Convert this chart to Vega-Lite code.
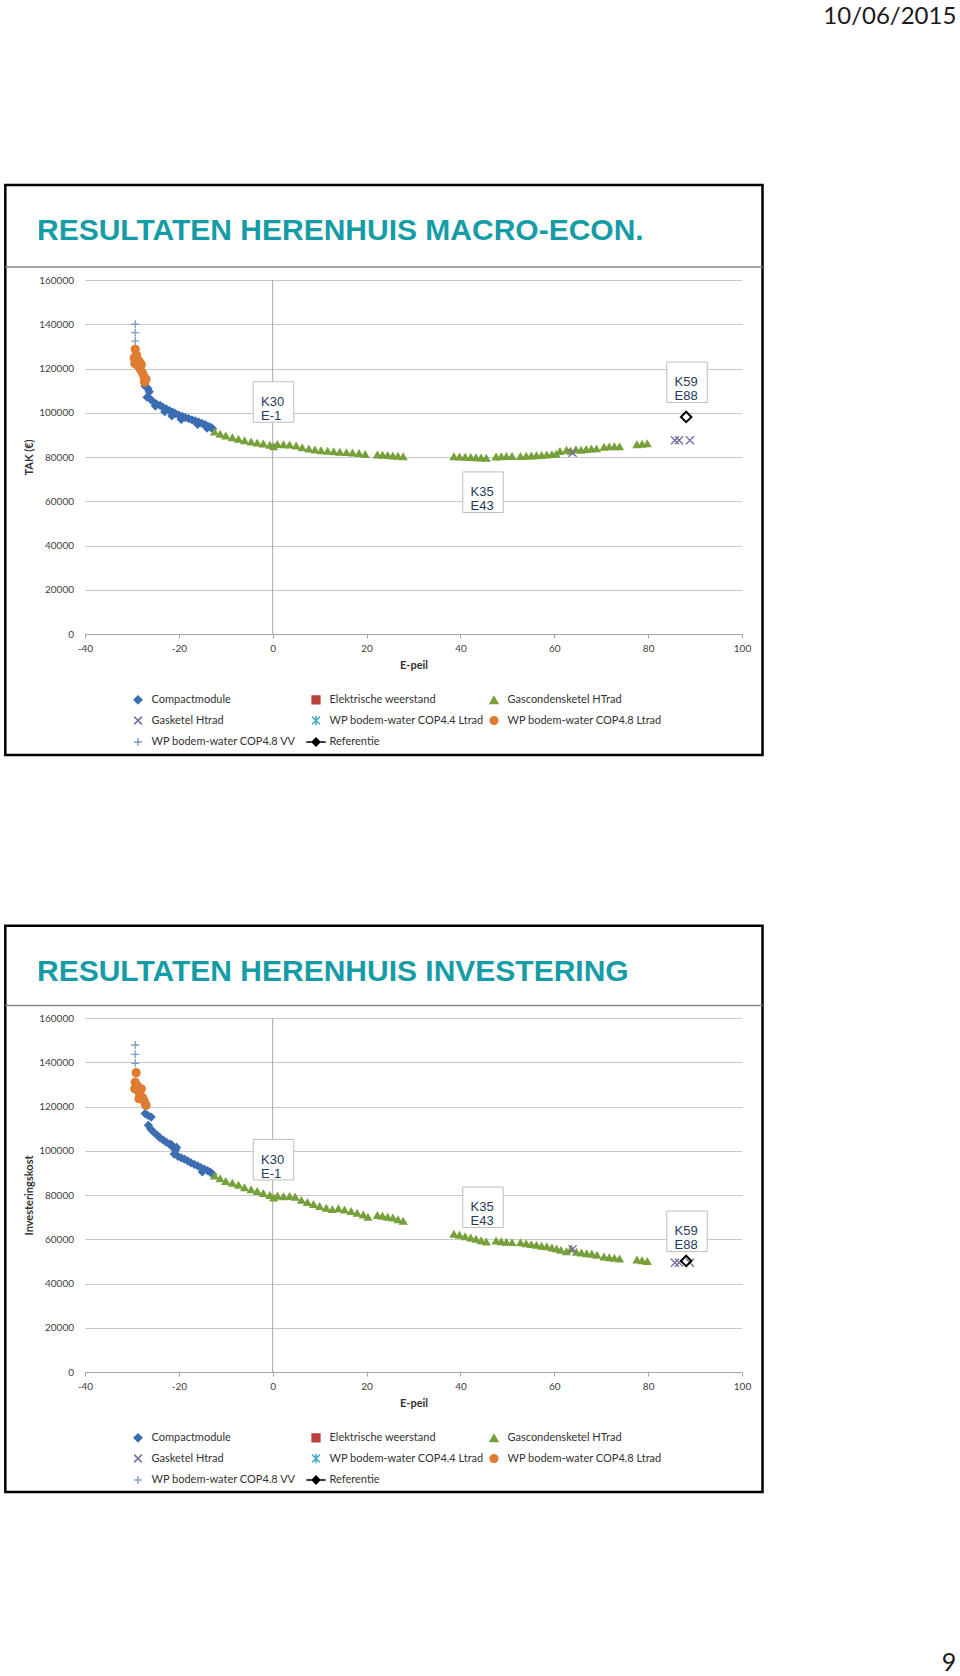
{
  "$schema": "https://vega.github.io/schema/vega-lite/v6.json",
  "background": "white",
  "padding": {"left": 4, "top": 4, "right": 0, "bottom": 0},
  "autosize": {"type": "pad"},
  "bounds": "flush",
  "spacing": 384,
  "config": {"font": "Lato", "view": {"stroke": null}},
  "resolve": {"scale": {"color": "independent", "shape": "independent"}},
  "datasets": {
    "tak": [
      {"s": "Compactmodule", "e": -27.2, "v": 112000}, {"s": "Compactmodule", "e": -26.6, "v": 111000}, {"s": "Compactmodule", "e": -26.3, "v": 109500}, {"s": "Compactmodule", "e": -26.8, "v": 107000}, {"s": "Compactmodule", "e": -26.0, "v": 106000}, {"s": "Compactmodule", "e": -25.5, "v": 105000}, {"s": "Compactmodule", "e": -24.8, "v": 104000}, {"s": "Compactmodule", "e": -24.0, "v": 103300}, {"s": "Compactmodule", "e": -23.4, "v": 102500}, {"s": "Compactmodule", "e": -22.7, "v": 101800}, {"s": "Compactmodule", "e": -22.0, "v": 101000}, {"s": "Compactmodule", "e": -21.3, "v": 100300}, {"s": "Compactmodule", "e": -20.7, "v": 99600}, {"s": "Compactmodule", "e": -20.0, "v": 98900}, {"s": "Compactmodule", "e": -19.3, "v": 98400}, {"s": "Compactmodule", "e": -18.6, "v": 97800}, {"s": "Compactmodule", "e": -17.9, "v": 97300}, {"s": "Compactmodule", "e": -17.2, "v": 96800}, {"s": "Compactmodule", "e": -16.5, "v": 96300}, {"s": "Compactmodule", "e": -15.8, "v": 95800}, {"s": "Compactmodule", "e": -15.1, "v": 95200}, {"s": "Compactmodule", "e": -14.4, "v": 94600}, {"s": "Compactmodule", "e": -13.8, "v": 94000}, {"s": "Compactmodule", "e": -13.2, "v": 93400}, {"s": "Compactmodule", "e": -12.8, "v": 92800}, {"s": "Compactmodule", "e": -21.5, "v": 98600}, {"s": "Compactmodule", "e": -19.5, "v": 97000}, {"s": "Compactmodule", "e": -16.0, "v": 94700}, {"s": "Compactmodule", "e": -14.0, "v": 93000}, {"s": "Compactmodule", "e": -25.0, "v": 103000}, {"s": "Compactmodule", "e": -23.0, "v": 100500},
      {"s": "Gascondensketel HTrad", "e": -12.4, "v": 91500}, {"s": "Gascondensketel HTrad", "e": -11.2, "v": 90500}, {"s": "Gascondensketel HTrad", "e": -10.0, "v": 89700}, {"s": "Gascondensketel HTrad", "e": -8.6, "v": 88900}, {"s": "Gascondensketel HTrad", "e": -7.3, "v": 88200}, {"s": "Gascondensketel HTrad", "e": -6.0, "v": 87600}, {"s": "Gascondensketel HTrad", "e": -4.6, "v": 87000}, {"s": "Gascondensketel HTrad", "e": -3.3, "v": 86500}, {"s": "Gascondensketel HTrad", "e": -2.0, "v": 86100}, {"s": "Gascondensketel HTrad", "e": -0.6, "v": 85500}, {"s": "Gascondensketel HTrad", "e": 0.2, "v": 84900}, {"s": "Gascondensketel HTrad", "e": 1.0, "v": 85900}, {"s": "Gascondensketel HTrad", "e": 2.3, "v": 85800}, {"s": "Gascondensketel HTrad", "e": 3.6, "v": 85600}, {"s": "Gascondensketel HTrad", "e": 5.0, "v": 85200}, {"s": "Gascondensketel HTrad", "e": 6.3, "v": 84400}, {"s": "Gascondensketel HTrad", "e": 7.7, "v": 83800}, {"s": "Gascondensketel HTrad", "e": 9.0, "v": 83400}, {"s": "Gascondensketel HTrad", "e": 10.3, "v": 83100}, {"s": "Gascondensketel HTrad", "e": 11.7, "v": 82800}, {"s": "Gascondensketel HTrad", "e": 13.0, "v": 82600}, {"s": "Gascondensketel HTrad", "e": 14.3, "v": 82400}, {"s": "Gascondensketel HTrad", "e": 15.7, "v": 82200}, {"s": "Gascondensketel HTrad", "e": 17.0, "v": 82000}, {"s": "Gascondensketel HTrad", "e": 18.4, "v": 81800}, {"s": "Gascondensketel HTrad", "e": 19.7, "v": 81400},
      {"s": "Gascondensketel HTrad", "e": 22.3, "v": 81100}, {"s": "Gascondensketel HTrad", "e": 23.4, "v": 81000}, {"s": "Gascondensketel HTrad", "e": 24.5, "v": 80900}, {"s": "Gascondensketel HTrad", "e": 25.6, "v": 80700}, {"s": "Gascondensketel HTrad", "e": 26.7, "v": 80600}, {"s": "Gascondensketel HTrad", "e": 27.8, "v": 80300},
      {"s": "Gascondensketel HTrad", "e": 38.6, "v": 80300}, {"s": "Gascondensketel HTrad", "e": 39.8, "v": 80200}, {"s": "Gascondensketel HTrad", "e": 41.0, "v": 80100}, {"s": "Gascondensketel HTrad", "e": 42.2, "v": 80000}, {"s": "Gascondensketel HTrad", "e": 43.3, "v": 79900}, {"s": "Gascondensketel HTrad", "e": 44.4, "v": 79800}, {"s": "Gascondensketel HTrad", "e": 45.5, "v": 79700},
      {"s": "Gascondensketel HTrad", "e": 47.6, "v": 80200}, {"s": "Gascondensketel HTrad", "e": 48.7, "v": 80300}, {"s": "Gascondensketel HTrad", "e": 49.8, "v": 80400}, {"s": "Gascondensketel HTrad", "e": 51.0, "v": 80500},
      {"s": "Gascondensketel HTrad", "e": 52.8, "v": 80500}, {"s": "Gascondensketel HTrad", "e": 54.0, "v": 80600}, {"s": "Gascondensketel HTrad", "e": 55.1, "v": 80700}, {"s": "Gascondensketel HTrad", "e": 56.2, "v": 80800}, {"s": "Gascondensketel HTrad", "e": 57.3, "v": 80900}, {"s": "Gascondensketel HTrad", "e": 58.4, "v": 81100}, {"s": "Gascondensketel HTrad", "e": 59.5, "v": 81300}, {"s": "Gascondensketel HTrad", "e": 60.4, "v": 81500}, {"s": "Gascondensketel HTrad", "e": 61.2, "v": 82700},
      {"s": "Gascondensketel HTrad", "e": 62.6, "v": 83300}, {"s": "Gascondensketel HTrad", "e": 63.5, "v": 82800}, {"s": "Gascondensketel HTrad", "e": 64.6, "v": 83500}, {"s": "Gascondensketel HTrad", "e": 65.7, "v": 83300}, {"s": "Gascondensketel HTrad", "e": 66.8, "v": 83600}, {"s": "Gascondensketel HTrad", "e": 67.9, "v": 83800}, {"s": "Gascondensketel HTrad", "e": 69.0, "v": 83900},
      {"s": "Gascondensketel HTrad", "e": 70.6, "v": 84600}, {"s": "Gascondensketel HTrad", "e": 71.7, "v": 84800}, {"s": "Gascondensketel HTrad", "e": 72.8, "v": 84900}, {"s": "Gascondensketel HTrad", "e": 73.9, "v": 84900},
      {"s": "Gascondensketel HTrad", "e": 77.6, "v": 85800}, {"s": "Gascondensketel HTrad", "e": 78.7, "v": 86000}, {"s": "Gascondensketel HTrad", "e": 79.8, "v": 86200},
      {"s": "WP bodem-water COP4.8 Ltrad", "e": -29.3, "v": 128700}, {"s": "WP bodem-water COP4.8 Ltrad", "e": -29.5, "v": 124800}, {"s": "WP bodem-water COP4.8 Ltrad", "e": -29.4, "v": 122300}, {"s": "WP bodem-water COP4.8 Ltrad", "e": -29.0, "v": 126000}, {"s": "WP bodem-water COP4.8 Ltrad", "e": -28.8, "v": 121500}, {"s": "WP bodem-water COP4.8 Ltrad", "e": -28.5, "v": 123500}, {"s": "WP bodem-water COP4.8 Ltrad", "e": -28.2, "v": 119700}, {"s": "WP bodem-water COP4.8 Ltrad", "e": -28.0, "v": 121800}, {"s": "WP bodem-water COP4.8 Ltrad", "e": -27.7, "v": 117800}, {"s": "WP bodem-water COP4.8 Ltrad", "e": -27.4, "v": 116000}, {"s": "WP bodem-water COP4.8 Ltrad", "e": -27.0, "v": 115200}, {"s": "WP bodem-water COP4.8 Ltrad", "e": -27.3, "v": 113800},
      {"s": "WP bodem-water COP4.8 VV", "e": -29.3, "v": 140000}, {"s": "WP bodem-water COP4.8 VV", "e": -29.3, "v": 136200}, {"s": "WP bodem-water COP4.8 VV", "e": -29.3, "v": 132400},
      {"s": "Gasketel Htrad", "e": 63.9, "v": 81950}, {"s": "Gasketel Htrad", "e": 85.7, "v": 87550}, {"s": "Gasketel Htrad", "e": 86.6, "v": 87550}, {"s": "Gasketel Htrad", "e": 88.9, "v": 87550},
      {"s": "Referentie", "e": 88.1, "v": 98100}
    ],
    "inv": [
      {"s": "Compactmodule", "e": -27.2, "v": 116800}, {"s": "Compactmodule", "e": -26.6, "v": 116000}, {"s": "Compactmodule", "e": -25.9, "v": 115200}, {"s": "Compactmodule", "e": -26.5, "v": 111500}, {"s": "Compactmodule", "e": -26.0, "v": 109800}, {"s": "Compactmodule", "e": -25.3, "v": 108300}, {"s": "Compactmodule", "e": -24.6, "v": 107000}, {"s": "Compactmodule", "e": -24.0, "v": 105800}, {"s": "Compactmodule", "e": -23.3, "v": 104800}, {"s": "Compactmodule", "e": -22.7, "v": 103900}, {"s": "Compactmodule", "e": -22.0, "v": 103000}, {"s": "Compactmodule", "e": -21.4, "v": 101800}, {"s": "Compactmodule", "e": -20.7, "v": 100300}, {"s": "Compactmodule", "e": -21.0, "v": 98500}, {"s": "Compactmodule", "e": -20.2, "v": 97500}, {"s": "Compactmodule", "e": -19.5, "v": 96800}, {"s": "Compactmodule", "e": -18.8, "v": 96200}, {"s": "Compactmodule", "e": -18.1, "v": 95400}, {"s": "Compactmodule", "e": -17.4, "v": 94500}, {"s": "Compactmodule", "e": -16.7, "v": 93800}, {"s": "Compactmodule", "e": -16.0, "v": 93200}, {"s": "Compactmodule", "e": -15.3, "v": 92400}, {"s": "Compactmodule", "e": -14.6, "v": 91700}, {"s": "Compactmodule", "e": -13.9, "v": 91000}, {"s": "Compactmodule", "e": -13.3, "v": 90300}, {"s": "Compactmodule", "e": -12.8, "v": 89400}, {"s": "Compactmodule", "e": -21.6, "v": 102800}, {"s": "Compactmodule", "e": -20.5, "v": 101500}, {"s": "Compactmodule", "e": -15.0, "v": 90500},
      {"s": "Gascondensketel HTrad", "e": -12.4, "v": 88800}, {"s": "Gascondensketel HTrad", "e": -11.2, "v": 87600}, {"s": "Gascondensketel HTrad", "e": -10.0, "v": 86300}, {"s": "Gascondensketel HTrad", "e": -8.6, "v": 85500}, {"s": "Gascondensketel HTrad", "e": -7.3, "v": 84600}, {"s": "Gascondensketel HTrad", "e": -6.0, "v": 83500}, {"s": "Gascondensketel HTrad", "e": -4.6, "v": 82600}, {"s": "Gascondensketel HTrad", "e": -3.3, "v": 81800}, {"s": "Gascondensketel HTrad", "e": -2.0, "v": 80900}, {"s": "Gascondensketel HTrad", "e": -0.6, "v": 80000}, {"s": "Gascondensketel HTrad", "e": 0.2, "v": 78900}, {"s": "Gascondensketel HTrad", "e": 1.0, "v": 79800}, {"s": "Gascondensketel HTrad", "e": 2.3, "v": 79400}, {"s": "Gascondensketel HTrad", "e": 3.6, "v": 79500}, {"s": "Gascondensketel HTrad", "e": 4.8, "v": 79200}, {"s": "Gascondensketel HTrad", "e": 6.1, "v": 77800}, {"s": "Gascondensketel HTrad", "e": 7.4, "v": 76800}, {"s": "Gascondensketel HTrad", "e": 8.7, "v": 75900}, {"s": "Gascondensketel HTrad", "e": 10.0, "v": 75000}, {"s": "Gascondensketel HTrad", "e": 11.4, "v": 74200}, {"s": "Gascondensketel HTrad", "e": 12.7, "v": 73700}, {"s": "Gascondensketel HTrad", "e": 14.0, "v": 74000}, {"s": "Gascondensketel HTrad", "e": 15.3, "v": 73400}, {"s": "Gascondensketel HTrad", "e": 16.7, "v": 72800}, {"s": "Gascondensketel HTrad", "e": 18.0, "v": 72000}, {"s": "Gascondensketel HTrad", "e": 19.3, "v": 71200}, {"s": "Gascondensketel HTrad", "e": 20.3, "v": 70200},
      {"s": "Gascondensketel HTrad", "e": 22.3, "v": 71000}, {"s": "Gascondensketel HTrad", "e": 23.4, "v": 70600}, {"s": "Gascondensketel HTrad", "e": 24.5, "v": 70200}, {"s": "Gascondensketel HTrad", "e": 25.6, "v": 69800}, {"s": "Gascondensketel HTrad", "e": 26.7, "v": 69000}, {"s": "Gascondensketel HTrad", "e": 27.8, "v": 68400},
      {"s": "Gascondensketel HTrad", "e": 38.6, "v": 62500}, {"s": "Gascondensketel HTrad", "e": 39.8, "v": 62000}, {"s": "Gascondensketel HTrad", "e": 41.0, "v": 61400}, {"s": "Gascondensketel HTrad", "e": 42.2, "v": 60800}, {"s": "Gascondensketel HTrad", "e": 43.3, "v": 60200}, {"s": "Gascondensketel HTrad", "e": 44.4, "v": 59600}, {"s": "Gascondensketel HTrad", "e": 45.5, "v": 59000},
      {"s": "Gascondensketel HTrad", "e": 47.6, "v": 59400}, {"s": "Gascondensketel HTrad", "e": 48.7, "v": 59100}, {"s": "Gascondensketel HTrad", "e": 49.8, "v": 58900}, {"s": "Gascondensketel HTrad", "e": 51.0, "v": 58700},
      {"s": "Gascondensketel HTrad", "e": 52.8, "v": 58600}, {"s": "Gascondensketel HTrad", "e": 54.0, "v": 58200}, {"s": "Gascondensketel HTrad", "e": 55.1, "v": 57800}, {"s": "Gascondensketel HTrad", "e": 56.2, "v": 57500}, {"s": "Gascondensketel HTrad", "e": 57.3, "v": 57100}, {"s": "Gascondensketel HTrad", "e": 58.4, "v": 56800}, {"s": "Gascondensketel HTrad", "e": 59.5, "v": 56300}, {"s": "Gascondensketel HTrad", "e": 60.5, "v": 55800}, {"s": "Gascondensketel HTrad", "e": 61.4, "v": 55200},
      {"s": "Gascondensketel HTrad", "e": 62.6, "v": 54600}, {"s": "Gascondensketel HTrad", "e": 63.6, "v": 55800}, {"s": "Gascondensketel HTrad", "e": 64.7, "v": 54400}, {"s": "Gascondensketel HTrad", "e": 65.8, "v": 54000}, {"s": "Gascondensketel HTrad", "e": 66.9, "v": 53700}, {"s": "Gascondensketel HTrad", "e": 68.0, "v": 53400}, {"s": "Gascondensketel HTrad", "e": 69.1, "v": 53000},
      {"s": "Gascondensketel HTrad", "e": 70.6, "v": 52200}, {"s": "Gascondensketel HTrad", "e": 71.7, "v": 51900}, {"s": "Gascondensketel HTrad", "e": 72.8, "v": 51600}, {"s": "Gascondensketel HTrad", "e": 73.9, "v": 51300},
      {"s": "Gascondensketel HTrad", "e": 77.6, "v": 50800}, {"s": "Gascondensketel HTrad", "e": 78.7, "v": 50500}, {"s": "Gascondensketel HTrad", "e": 79.8, "v": 50200},
      {"s": "WP bodem-water COP4.8 Ltrad", "e": -29.1, "v": 135300}, {"s": "WP bodem-water COP4.8 Ltrad", "e": -29.3, "v": 131000}, {"s": "WP bodem-water COP4.8 Ltrad", "e": -29.4, "v": 128000}, {"s": "WP bodem-water COP4.8 Ltrad", "e": -28.9, "v": 129500}, {"s": "WP bodem-water COP4.8 Ltrad", "e": -28.6, "v": 127000}, {"s": "WP bodem-water COP4.8 Ltrad", "e": -28.3, "v": 125500}, {"s": "WP bodem-water COP4.8 Ltrad", "e": -28.0, "v": 128000}, {"s": "WP bodem-water COP4.8 Ltrad", "e": -27.7, "v": 124000}, {"s": "WP bodem-water COP4.8 Ltrad", "e": -27.4, "v": 122500}, {"s": "WP bodem-water COP4.8 Ltrad", "e": -27.1, "v": 121000}, {"s": "WP bodem-water COP4.8 Ltrad", "e": -27.0, "v": 120500}, {"s": "WP bodem-water COP4.8 Ltrad", "e": -28.5, "v": 123500},
      {"s": "WP bodem-water COP4.8 VV", "e": -29.3, "v": 147800}, {"s": "WP bodem-water COP4.8 VV", "e": -29.3, "v": 143600}, {"s": "WP bodem-water COP4.8 VV", "e": -29.3, "v": 139500},
      {"s": "Gasketel Htrad", "e": 63.9, "v": 55450}, {"s": "Gasketel Htrad", "e": 85.7, "v": 49400}, {"s": "Gasketel Htrad", "e": 86.6, "v": 49400}, {"s": "Gasketel Htrad", "e": 88.9, "v": 49400},
      {"s": "Referentie", "e": 88.1, "v": 50200}
    ],
    "ann1": [
      {"lab": "K30\nE-1", "e": 0.17, "v": 104860},
      {"lab": "K35\nE43", "e": 44.81, "v": 64090},
      {"lab": "K59\nE88", "e": 88.28, "v": 113765}
    ],
    "ann2": [
      {"lab": "K30\nE-1", "e": 0.17, "v": 95955},
      {"lab": "K35\nE43", "e": 44.81, "v": 74440},
      {"lab": "K59\nE88", "e": 88.28, "v": 63590}
    ]
  },
  "vconcat": [
    {
      "width": 657,
      "height": 354,
      "layer": [
        {
          "data": {"values": [{}]},
          "mark": {"type": "rect", "fill": "transparent", "stroke": "#000000", "strokeWidth": 2.5, "clip": false},
          "encoding": {
            "x": {"datum": -56.98, "scale": {"domain": [-40, 100]}},
            "x2": {"datum": 104.37},
            "y": {"datum": 202939, "scale": {"domain": [0, 160000]}},
            "y2": {"datum": -54690}
          }
        },
        {
          "data": {"values": [{}]},
          "mark": {"type": "rule", "stroke": "#8a8a8a", "strokeWidth": 1.5, "clip": false},
          "encoding": {
            "x": {"datum": -56.98, "scale": {"domain": [-40, 100]}},
            "x2": {"datum": 104.37},
            "y": {"datum": 165877, "scale": {"domain": [0, 160000]}}
          }
        },
        {
          "data": {"values": [{"t": "RESULTATEN HERENHUIS MACRO-ECON."}]},
          "mark": {"type": "text", "align": "left", "baseline": "middle", "font": "Liberation Sans", "fontWeight": "bold", "fontSize": 30, "color": "#169ca6", "clip": false},
          "encoding": {
            "x": {"datum": -50.23, "scale": {"domain": [-40, 100]}},
            "y": {"datum": 182148, "scale": {"domain": [0, 160000]}},
            "text": {"field": "t"}
          }
        },
        {
          "data": {"values": [{"t": "10/06/2015"}]},
          "mark": {"type": "text", "align": "center", "baseline": "middle", "font": "Lato", "fontSize": 24, "color": "#1a1a1a", "clip": false},
          "encoding": {
            "x": {"datum": 131.5, "scale": {"domain": [-40, 100]}},
            "y": {"datum": 278900, "scale": {"domain": [0, 160000]}},
            "text": {"field": "t"}
          }
        },
        {
          "data": {"values": [{}]},
          "mark": {"type": "rule", "stroke": "#a6a6a6", "strokeWidth": 1},
          "encoding": {
            "x": {"datum": 0, "scale": {"domain": [-40, 100]}},
            "y": {"datum": 0, "scale": {"domain": [0, 160000]}},
            "y2": {"datum": 160000}
          }
        },
        {
          "data": {"name": "tak"},
          "encoding": {
            "x": {
              "field": "e", "type": "quantitative",
              "scale": {"domain": [-40, 100]},
              "axis": {"title": "E-peil", "values": [-40, -20, 0, 20, 40, 60, 80, 100], "labelExpr": "'' + datum.value", "grid": false, "domainColor": "#a6a6a6", "tickColor": "#a6a6a6", "tickSize": 4, "labelPadding": 5, "labelFontSize": 10, "labelColor": "#404040", "labelFlush": false, "labelOverlap": false, "titleFontSize": 11, "titleFontWeight": "bold", "titleColor": "#333333", "titlePadding": 6}
            },
            "y": {
              "field": "v", "type": "quantitative",
              "scale": {"domain": [0, 160000]},
              "axis": {"title": "TAK (€)", "values": [0, 20000, 40000, 60000, 80000, 100000, 120000, 140000, 160000], "labelExpr": "'' + datum.value", "grid": true, "gridColor": "#c8c8c8", "gridWidth": 1, "domain": false, "ticks": false, "labelPadding": 11.5, "labelFontSize": 10, "labelColor": "#404040", "titleFontSize": 11, "titleFontWeight": "bold", "titleColor": "#333333", "titlePadding": 4}
            },
            "color": {
              "field": "s", "type": "nominal",
              "scale": {"domain": ["Compactmodule", "Gasketel Htrad", "WP bodem-water COP4.8 VV", "Elektrische weerstand", "WP bodem-water COP4.4 Ltrad", "Referentie", "Gascondensketel HTrad", "WP bodem-water COP4.8 Ltrad"], "range": ["#3b6db3", "#7d6a9e", "#7f9ccc", "#b8413e", "#4bacc6", "#000000", "#76a03a", "#e07b32"]},
              "legend": {"title": null, "orient": "none", "legendX": 47.5, "legendY": 413.5, "columns": 3, "gridAlign": "all", "columnPadding": -4, "rowPadding": 4.5, "padding": 0, "labelFont": "Lato", "labelFontSize": 11, "labelColor": "#333333", "labelOffset": 8, "labelLimit": 300, "symbolSize": 60,
                "encode": {"symbols": {"update": {
                  "fill": {"signal": "datum.value === 'Compactmodule' ? '#3b6db3' : datum.value === 'Elektrische weerstand' ? '#b8413e' : datum.value === 'Gascondensketel HTrad' ? '#76a03a' : datum.value === 'WP bodem-water COP4.8 Ltrad' ? '#e07b32' : 'transparent'"},
                  "stroke": {"signal": "datum.value === 'Gasketel Htrad' ? '#a0a0a0' : datum.value === 'WP bodem-water COP4.4 Ltrad' ? '#9cc3d2' : datum.value === 'WP bodem-water COP4.8 VV' ? '#b3bfd2' : datum.value === 'Referentie' ? '#000000' : 'transparent'"},
                  "strokeWidth": {"value": 1.3},
                  "opacity": {"value": 1}
                }}}
              }
            },
            "shape": {
              "field": "s", "type": "nominal",
              "scale": {"domain": ["Compactmodule", "Gasketel Htrad", "WP bodem-water COP4.8 VV", "Elektrische weerstand", "WP bodem-water COP4.4 Ltrad", "Referentie", "Gascondensketel HTrad", "WP bodem-water COP4.8 Ltrad"], "range": ["diamond", "M-1,-1L1,1M-1,1L1,-1", "M-1,0L1,0M0,-1L0,1", "square", "M-1,-1L1,1M-1,1L1,-1M0,-1.2L0,1.2", "M-2.5,0L-1,0M1,0L2.5,0M0,-1L1,0L0,1L-1,0Z", "triangle-up", "circle"]},
              "legend": {"title": null, "orient": "none", "legendX": 47.5, "legendY": 413.5, "columns": 3, "gridAlign": "all", "columnPadding": -4, "rowPadding": 4.5, "padding": 0, "labelFont": "Lato", "labelFontSize": 11, "labelColor": "#333333", "labelOffset": 8, "labelLimit": 300, "symbolSize": 60}
            }
          },
          "layer": [
            {
              "transform": [{"filter": {"field": "s", "oneOf": ["Compactmodule", "Elektrische weerstand", "Gascondensketel HTrad", "WP bodem-water COP4.8 Ltrad"]}}],
              "mark": {"type": "point", "filled": true, "opacity": 1, "size": 85}
            },
            {
              "transform": [{"filter": {"field": "s", "oneOf": ["Gasketel Htrad", "WP bodem-water COP4.4 Ltrad", "WP bodem-water COP4.8 VV"]}}],
              "mark": {"type": "point", "filled": false, "opacity": 1, "size": 64, "strokeWidth": 1.3}
            }
          ]
        },
        {
          "data": {"name": "tak"},
          "transform": [{"filter": {"field": "s", "equal": "Referentie"}}],
          "mark": {"type": "point", "shape": "diamond", "filled": false, "stroke": "#000000", "strokeWidth": 2, "size": 110, "opacity": 1},
          "encoding": {
            "x": {"field": "e", "type": "quantitative", "scale": {"domain": [-40, 100]}},
            "y": {"field": "v", "type": "quantitative", "scale": {"domain": [0, 160000]}}
          }
        },
        {
          "data": {"name": "ann1"},
          "mark": {"type": "point", "shape": "square", "size": 1640, "filled": true, "fill": "#ffffff", "stroke": "#bdbdbd", "strokeWidth": 1, "opacity": 1},
          "encoding": {
            "x": {"field": "e", "type": "quantitative", "scale": {"domain": [-40, 100]}},
            "y": {"field": "v", "type": "quantitative", "scale": {"domain": [0, 160000]}}
          }
        },
        {
          "data": {"name": "ann1"},
          "mark": {"type": "text", "align": "left", "baseline": "middle", "dx": -12.5, "lineBreak": "\n", "lineHeight": 14, "font": "Liberation Sans", "fontSize": 13, "color": "#1f3b5c"},
          "encoding": {
            "x": {"field": "e", "type": "quantitative", "scale": {"domain": [-40, 100]}},
            "y": {"field": "v", "type": "quantitative", "scale": {"domain": [0, 160000]}},
            "text": {"field": "lab"}
          }
        }
      ]
    },
    {
      "width": 657,
      "height": 354,
      "layer": [
        {
          "data": {"values": [{}]},
          "mark": {"type": "rect", "fill": "transparent", "stroke": "#000000", "strokeWidth": 2.5, "clip": false},
          "encoding": {
            "x": {"datum": -56.98, "scale": {"domain": [-40, 100]}},
            "x2": {"datum": 104.37},
            "y": {"datum": 201719, "scale": {"domain": [0, 160000]}},
            "y2": {"datum": -54238}
          }
        },
        {
          "data": {"values": [{}]},
          "mark": {"type": "rule", "stroke": "#8a8a8a", "strokeWidth": 1.5, "clip": false},
          "encoding": {
            "x": {"datum": -56.98, "scale": {"domain": [-40, 100]}},
            "x2": {"datum": 104.37},
            "y": {"datum": 165651, "scale": {"domain": [0, 160000]}}
          }
        },
        {
          "data": {"values": [{"t": "RESULTATEN HERENHUIS INVESTERING"}]},
          "mark": {"type": "text", "align": "left", "baseline": "middle", "font": "Liberation Sans", "fontWeight": "bold", "fontSize": 30, "color": "#169ca6", "clip": false},
          "encoding": {
            "x": {"datum": -50.23, "scale": {"domain": [-40, 100]}},
            "y": {"datum": 180928, "scale": {"domain": [0, 160000]}},
            "text": {"field": "t"}
          }
        },
        {
          "data": {"values": [{"t": "9"}]},
          "mark": {"type": "text", "align": "center", "baseline": "middle", "font": "Lato", "fontSize": 25, "color": "#1a1a1a", "clip": false},
          "encoding": {
            "x": {"datum": 144.1, "scale": {"domain": [-40, 100]}},
            "y": {"datum": -131526, "scale": {"domain": [0, 160000]}},
            "text": {"field": "t"}
          }
        },
        {
          "data": {"values": [{}]},
          "mark": {"type": "rule", "stroke": "#a6a6a6", "strokeWidth": 1},
          "encoding": {
            "x": {"datum": 0, "scale": {"domain": [-40, 100]}},
            "y": {"datum": 0, "scale": {"domain": [0, 160000]}},
            "y2": {"datum": 160000}
          }
        },
        {
          "data": {"name": "inv"},
          "encoding": {
            "x": {
              "field": "e", "type": "quantitative",
              "scale": {"domain": [-40, 100]},
              "axis": {"title": "E-peil", "values": [-40, -20, 0, 20, 40, 60, 80, 100], "labelExpr": "'' + datum.value", "grid": false, "domainColor": "#a6a6a6", "tickColor": "#a6a6a6", "tickSize": 4, "labelPadding": 5, "labelFontSize": 10, "labelColor": "#404040", "labelFlush": false, "labelOverlap": false, "titleFontSize": 11, "titleFontWeight": "bold", "titleColor": "#333333", "titlePadding": 6}
            },
            "y": {
              "field": "v", "type": "quantitative",
              "scale": {"domain": [0, 160000]},
              "axis": {"title": "Investeringskost", "values": [0, 20000, 40000, 60000, 80000, 100000, 120000, 140000, 160000], "labelExpr": "'' + datum.value", "grid": true, "gridColor": "#c8c8c8", "gridWidth": 1, "domain": false, "ticks": false, "labelPadding": 11.5, "labelFontSize": 10, "labelColor": "#404040", "titleFontSize": 11, "titleFontWeight": "bold", "titleColor": "#333333", "titlePadding": 4}
            },
            "color": {
              "field": "s", "type": "nominal",
              "scale": {"domain": ["Compactmodule", "Gasketel Htrad", "WP bodem-water COP4.8 VV", "Elektrische weerstand", "WP bodem-water COP4.4 Ltrad", "Referentie", "Gascondensketel HTrad", "WP bodem-water COP4.8 Ltrad"], "range": ["#3b6db3", "#7d6a9e", "#7f9ccc", "#b8413e", "#4bacc6", "#000000", "#76a03a", "#e07b32"]},
              "legend": {"title": null, "orient": "none", "legendX": 47.5, "legendY": 413.5, "columns": 3, "gridAlign": "all", "columnPadding": -4, "rowPadding": 4.5, "padding": 0, "labelFont": "Lato", "labelFontSize": 11, "labelColor": "#333333", "labelOffset": 8, "labelLimit": 300, "symbolSize": 60,
                "encode": {"symbols": {"update": {
                  "fill": {"signal": "datum.value === 'Compactmodule' ? '#3b6db3' : datum.value === 'Elektrische weerstand' ? '#b8413e' : datum.value === 'Gascondensketel HTrad' ? '#76a03a' : datum.value === 'WP bodem-water COP4.8 Ltrad' ? '#e07b32' : 'transparent'"},
                  "stroke": {"signal": "datum.value === 'Gasketel Htrad' ? '#a0a0a0' : datum.value === 'WP bodem-water COP4.4 Ltrad' ? '#9cc3d2' : datum.value === 'WP bodem-water COP4.8 VV' ? '#b3bfd2' : datum.value === 'Referentie' ? '#000000' : 'transparent'"},
                  "strokeWidth": {"value": 1.3},
                  "opacity": {"value": 1}
                }}}
              }
            },
            "shape": {
              "field": "s", "type": "nominal",
              "scale": {"domain": ["Compactmodule", "Gasketel Htrad", "WP bodem-water COP4.8 VV", "Elektrische weerstand", "WP bodem-water COP4.4 Ltrad", "Referentie", "Gascondensketel HTrad", "WP bodem-water COP4.8 Ltrad"], "range": ["diamond", "M-1,-1L1,1M-1,1L1,-1", "M-1,0L1,0M0,-1L0,1", "square", "M-1,-1L1,1M-1,1L1,-1M0,-1.2L0,1.2", "M-2.5,0L-1,0M1,0L2.5,0M0,-1L1,0L0,1L-1,0Z", "triangle-up", "circle"]},
              "legend": {"title": null, "orient": "none", "legendX": 47.5, "legendY": 413.5, "columns": 3, "gridAlign": "all", "columnPadding": -4, "rowPadding": 4.5, "padding": 0, "labelFont": "Lato", "labelFontSize": 11, "labelColor": "#333333", "labelOffset": 8, "labelLimit": 300, "symbolSize": 60}
            }
          },
          "layer": [
            {
              "transform": [{"filter": {"field": "s", "oneOf": ["Compactmodule", "Elektrische weerstand", "Gascondensketel HTrad", "WP bodem-water COP4.8 Ltrad"]}}],
              "mark": {"type": "point", "filled": true, "opacity": 1, "size": 85}
            },
            {
              "transform": [{"filter": {"field": "s", "oneOf": ["Gasketel Htrad", "WP bodem-water COP4.4 Ltrad", "WP bodem-water COP4.8 VV"]}}],
              "mark": {"type": "point", "filled": false, "opacity": 1, "size": 64, "strokeWidth": 1.3}
            }
          ]
        },
        {
          "data": {"name": "inv"},
          "transform": [{"filter": {"field": "s", "equal": "Referentie"}}],
          "mark": {"type": "point", "shape": "diamond", "filled": false, "stroke": "#000000", "strokeWidth": 2, "size": 110, "opacity": 1},
          "encoding": {
            "x": {"field": "e", "type": "quantitative", "scale": {"domain": [-40, 100]}},
            "y": {"field": "v", "type": "quantitative", "scale": {"domain": [0, 160000]}}
          }
        },
        {
          "data": {"name": "ann2"},
          "mark": {"type": "point", "shape": "square", "size": 1640, "filled": true, "fill": "#ffffff", "stroke": "#bdbdbd", "strokeWidth": 1, "opacity": 1},
          "encoding": {
            "x": {"field": "e", "type": "quantitative", "scale": {"domain": [-40, 100]}},
            "y": {"field": "v", "type": "quantitative", "scale": {"domain": [0, 160000]}}
          }
        },
        {
          "data": {"name": "ann2"},
          "mark": {"type": "text", "align": "left", "baseline": "middle", "dx": -12.5, "lineBreak": "\n", "lineHeight": 14, "font": "Liberation Sans", "fontSize": 13, "color": "#1f3b5c"},
          "encoding": {
            "x": {"field": "e", "type": "quantitative", "scale": {"domain": [-40, 100]}},
            "y": {"field": "v", "type": "quantitative", "scale": {"domain": [0, 160000]}},
            "text": {"field": "lab"}
          }
        }
      ]
    }
  ]
}
